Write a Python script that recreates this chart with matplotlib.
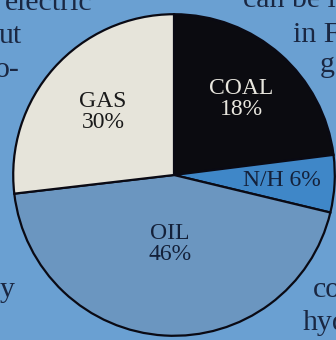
import numpy as np
import matplotlib
matplotlib.use("Agg")
import matplotlib.pyplot as plt

# slices in clockwise order from 12 o'clock
sources = ["COAL", "N/H", "OIL", "GAS"]
pct_label = [18, 6, 46, 30]            # printed percentages
wedge_share = [23.0, 5.75, 44.4, 26.85]  # share of the circle as drawn
colors = ["#0b0b10", "#3f87c8", "#6b96c0", "#e6e4da"]
text_colors = ["#e8e6de", "#14213a", "#14213a", "#1a1a1a"]

bg = "#6aa0d2"
ink = "#1a2742"
serif = ["Liberation Serif", "DejaVu Serif"]

W, H = 336, 340
fig = plt.figure(figsize=(W / 100, H / 100), dpi=100, facecolor=bg)

# surrounding page text (cropped scan, cut at the edges like the original)
page_text = [
    ("electric", 5, 10), ("ut", -1, 43), ("o-", -5, 77), ("y", 0, 297),
    ("can be i", 243, 7), ("in F", 293, 42), ("g", 320, 72),
    ("co", 313, 297), ("hyd", 303, 330),
]
for s, px, py in page_text:
    fig.text(px / W, 1 - py / H, s, fontsize=21.5, family=serif, color=ink,
             ha="left", va="baseline")

cx, cy, r = 174, 175, 164
ax = fig.add_axes([(cx - r) / W, (H - cy - r) / H, 2 * r / W, 2 * r / H])
ax.set_facecolor("none")
wedges, _ = ax.pie(wedge_share, colors=colors, startangle=90,
                   counterclock=False,
                   wedgeprops=dict(edgecolor="#0a0a14", linewidth=1.6))
ax.set_xlim(-1.02, 1.02)
ax.set_ylim(-1.02, 1.02)
ax.set_aspect("equal")
ax.axis("off")

label_r = [0.63, 0.67, 0.43, 0.59]
for w, name, p, lr, tc in zip(wedges, sources, pct_label, label_r, text_colors):
    mid = np.deg2rad((w.theta1 + w.theta2) / 2)
    x, y = lr * np.cos(mid), lr * np.sin(mid)
    txt = f"{name} {p}%" if name == "N/H" else f"{name}\n{p}%"
    ax.text(x, y, txt, ha="center", va="center", fontsize=17,
            family=serif, color=tc, linespacing=1.0)

fig.savefig("out.png", dpi=100, facecolor=bg)
